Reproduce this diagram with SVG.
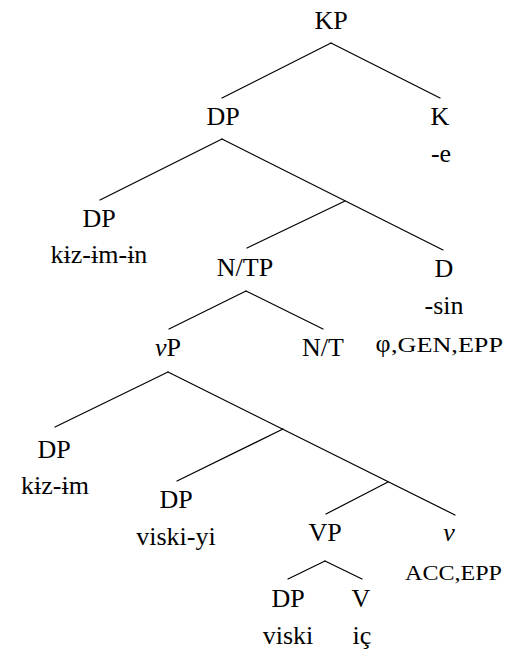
<svg xmlns="http://www.w3.org/2000/svg" width="510" height="657" viewBox="0 0 510 657">
  <style>
    text { font-family: 'Liberation Serif', 'Times New Roman', serif; font-size: 26px; fill: #000; text-anchor: middle; }
    text.feat { font-size: 20px; text-anchor: start; }
    .it { font-style: italic; }
    .edges line { stroke: #000; stroke-width: 1.2; stroke-linecap: round; }
  </style>
  <rect width="510" height="657" fill="#fff"/>

  <!-- branches -->
  <g id="connectors" class="edges">
    <line x1="331" y1="43" x2="222" y2="98"/>
    <line x1="331" y1="43" x2="440" y2="98"/>
    <line x1="222" y1="139" x2="100" y2="200"/>
    <line x1="222" y1="139" x2="443" y2="250"/>
    <line x1="345" y1="201" x2="247" y2="248"/>
    <line x1="246" y1="291" x2="169" y2="329"/>
    <line x1="246" y1="291" x2="323" y2="329"/>
    <line x1="168" y1="372" x2="55" y2="427"/>
    <line x1="168" y1="372" x2="455" y2="515"/>
    <line x1="283" y1="429" x2="177" y2="481"/>
    <line x1="388" y1="482" x2="326" y2="514"/>
    <line x1="325" y1="561" x2="288" y2="579"/>
    <line x1="325" y1="561" x2="362" y2="579"/>
  </g>

  <g id="kp"><text x="331" y="29">KP</text></g>
  <g id="dp-top"><text x="223" y="125">DP</text></g>
  <g id="k">
    <text x="440" y="125">K</text>
    <text x="441" y="162">-e</text>
  </g>
  <g id="dp-poss">
    <text x="99" y="227">DP</text>
    <text x="99" y="263">kɨz-ɨm-ɨn</text>
  </g>
  <g id="ntp"><text x="245" y="276">N/TP</text></g>
  <g id="d">
    <text x="444" y="277">D</text>
    <text x="444" y="314">-sin</text>
    <text x="383" y="352">φ</text>
    <text class="feat" x="391" y="352" textLength="112" lengthAdjust="spacingAndGlyphs">,GEN,EPP</text>
  </g>
  <g id="vp-little"><text x="168" y="356"><tspan class="it">v</tspan>P</text></g>
  <g id="nt"><text x="323" y="356">N/T</text></g>
  <g id="dp-subj">
    <text x="54" y="458">DP</text>
    <text x="55" y="494">kɨz-ɨm</text>
  </g>
  <g id="dp-obj">
    <text x="176" y="508">DP</text>
    <text x="176" y="545">viski-yi</text>
  </g>
  <g id="vp"><text x="325" y="541">VP</text></g>
  <g id="v-little">
    <text class="it" x="449" y="541">v</text>
    <text class="feat" x="405" y="580" textLength="97" lengthAdjust="spacingAndGlyphs">ACC,EPP</text>
  </g>
  <g id="dp-low">
    <text x="288" y="607">DP</text>
    <text x="288" y="644">viski</text>
  </g>
  <g id="v">
    <text x="361" y="607">V</text>
    <text x="362" y="644">iç</text>
  </g>
</svg>
